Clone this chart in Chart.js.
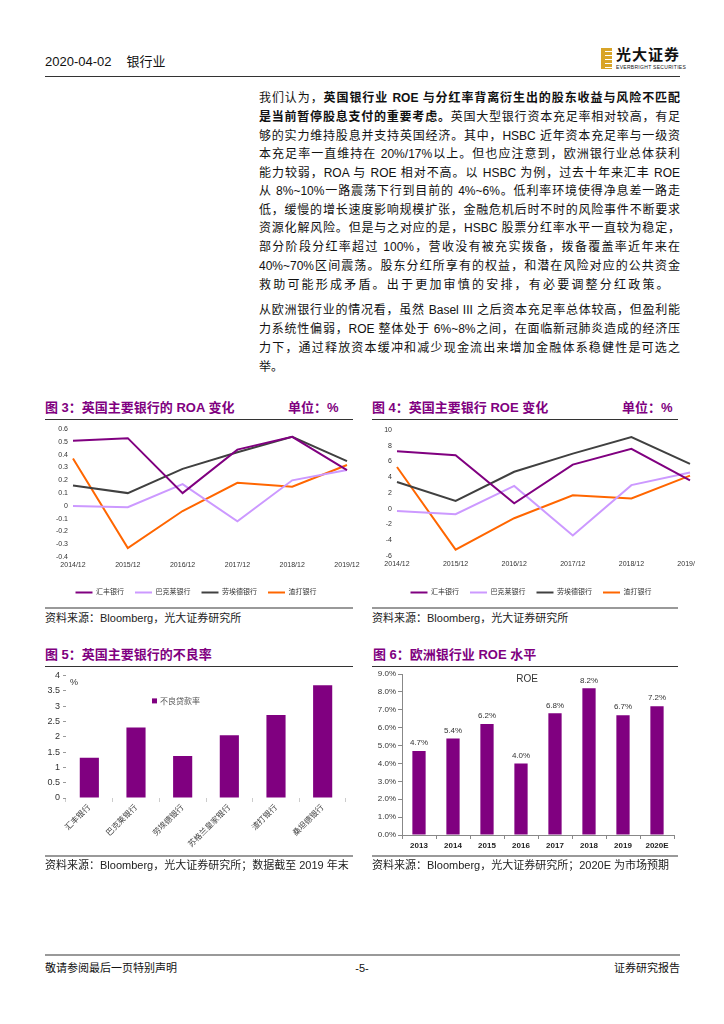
<!DOCTYPE html>
<html>
<head>
<meta charset="utf-8">
<script src="https://cdn.jsdelivr.net/npm/chart.js@4.4.1/dist/chart.umd.min.js"></script>
<style>
body{margin:0;width:724px;height:1024px;position:relative;background:#fff;overflow:hidden;
  font-family:"Liberation Sans","Noto Sans CJK SC",sans-serif;color:#111}
.abs{position:absolute}
.ln{position:absolute;left:259px;width:421px;font-size:12px;line-height:18px;height:18px;text-align:justify;text-align-last:justify}
.ln.end{text-align-last:left}
.ttl{position:absolute;font-size:13px;font-weight:bold;color:#800080;line-height:16px;white-space:nowrap}
.src{position:absolute;font-size:11px;line-height:14px;color:#222;white-space:nowrap}
.rule{position:absolute;height:1px;background:#333}
.rule2{position:absolute;height:2px;background:#999}
canvas{display:block}
</style>
</head>
<body>
<!-- header -->
<div class="abs" style="left:45px;top:54px;font-size:13px;line-height:16px">2020-04-02<span style="margin-left:15px">银行业</span></div>
<div class="rule" style="left:45px;top:76px;width:635px"></div>
<div class="abs" style="left:601px;top:48px;width:11px;height:21px;background:repeating-linear-gradient(#d8a428 0 3px,#fff 3px 4px)"></div>
<div class="abs" style="left:601px;top:48px;width:4px;height:21px;background:#d8a428"></div>
<div class="abs" style="left:616px;top:46px;font-size:15px;font-weight:bold;line-height:17px;letter-spacing:1px">光大证券</div>
<div class="abs" style="left:616px;top:64px;font-size:5px;line-height:6px;letter-spacing:0.3px">EVERBRIGHT SECURITIES</div>

<!-- body text -->
<div class="ln" style="top:89px">我们认为，<b>英国银行业 ROE 与分红率背离衍生出的股东收益与风险不匹配</b></div>
<div class="ln" style="top:108px"><b>是当前暂停股息支付的重要考虑。</b>英国大型银行资本充足率相对较高，有足</div>
<div class="ln" style="top:127px">够的实力维持股息并支持英国经济。其中，HSBC 近年资本充足率与一级资</div>
<div class="ln" style="top:145px">本充足率一直维持在 20%/17%以上。但也应注意到，欧洲银行业总体获利</div>
<div class="ln" style="top:164px">能力较弱，ROA 与 ROE 相对不高。以 HSBC 为例，过去十年来汇丰 ROE</div>
<div class="ln" style="top:182px">从 8%~10%一路震荡下行到目前的 4%~6%。低利率环境使得净息差一路走</div>
<div class="ln" style="top:201px">低，缓慢的增长速度影响规模扩张，金融危机后时不时的风险事件不断要求</div>
<div class="ln" style="top:219px">资源化解风险。但是与之对应的是，HSBC 股票分红率水平一直较为稳定，</div>
<div class="ln" style="top:238px">部分阶段分红率超过 100%，营收没有被充实拨备，拨备覆盖率近年来在</div>
<div class="ln" style="top:257px">40%~70%区间震荡。股东分红所享有的权益，和潜在风险对应的公共资金</div>
<div class="ln end" style="top:276px;letter-spacing:2.2px">救助可能形成矛盾。出于更加审慎的安排，有必要调整分红政策。</div>
<div class="ln" style="top:301px">从欧洲银行业的情况看，虽然 Basel III 之后资本充足率总体较高，但盈利能</div>
<div class="ln" style="top:320px">力系统性偏弱，ROE 整体处于 6%~8%之间，在面临新冠肺炎造成的经济压</div>
<div class="ln" style="top:339px">力下，通过释放资本缓冲和减少现金流出来增加金融体系稳健性是可选之</div>
<div class="ln end" style="top:358px">举。</div>

<!-- figure 3 -->
<div class="ttl" style="left:45px;top:400px">图 3：英国主要银行的 ROA 变化</div>
<div class="ttl" style="left:288px;top:400px">单位：%</div>
<div class="rule" style="left:45px;top:419px;width:308px"></div>
<div class="abs" style="left:45px;top:420px;width:320px;height:186px"><canvas id="roaChart" width="320" height="186"></canvas></div>
<div class="rule2" style="left:45px;top:607px;width:308px"></div>
<div class="src" style="left:45px;top:611px">资料来源：Bloomberg，光大证券研究所</div>

<!-- figure 4 -->
<div class="ttl" style="left:372px;top:400px">图 4：英国主要银行 ROE 变化</div>
<div class="ttl" style="left:622px;top:400px">单位：%</div>
<div class="rule" style="left:372px;top:419px;width:306px"></div>
<div class="abs" style="left:372px;top:420px;width:323px;height:186px;overflow:hidden"><canvas id="roeChart" width="340" height="186"></canvas></div>
<div class="rule2" style="left:372px;top:607px;width:306px"></div>
<div class="src" style="left:372px;top:611px">资料来源：Bloomberg，光大证券研究所</div>

<!-- figure 5 -->
<div class="ttl" style="left:45px;top:647px">图 5：英国主要银行的不良率</div>
<div class="rule" style="left:45px;top:666px;width:308px"></div>
<div class="abs" style="left:45px;top:667px;width:310px;height:189px"><canvas id="nplChart" width="310" height="189"></canvas></div>
<div class="rule2" style="left:45px;top:855px;width:308px"></div>
<div class="src" style="left:45px;top:858px">资料来源：Bloomberg，光大证券研究所；数据截至 2019 年末</div>

<!-- figure 6 -->
<div class="ttl" style="left:373px;top:647px">图 6：欧洲银行业 ROE 水平</div>
<div class="rule" style="left:372px;top:666px;width:306px"></div>
<div class="abs" style="left:365px;top:667px;width:317px;height:187px"><canvas id="euChart" width="317" height="187"></canvas></div>
<div class="rule2" style="left:372px;top:855px;width:306px"></div>
<div class="src" style="left:372px;top:858px">资料来源：Bloomberg，光大证券研究所；2020E 为市场预期</div>

<!-- footer -->
<div class="rule2" style="left:45px;top:954px;width:635px"></div>
<div class="abs" style="left:45px;top:961px;font-size:11px;line-height:14px">敬请参阅最后一页特别声明</div>
<div class="abs" style="left:352px;top:961px;width:20px;text-align:center;font-size:11px;line-height:14px">-5-</div>
<div class="abs" style="left:600px;top:961px;width:80px;text-align:right;font-size:11px;line-height:14px">证券研究报告</div>

<script>
// data
const years = ["2014/12", "2015/12", "2016/12", "2017/12", "2018/12", "2019/12"];
const banks = ["汇丰银行", "巴克莱银行", "劳埃德银行", "渣打银行"];
const lineColors = ["#800080", "#cc99ff", "#404040", "#ff6600"];

const roaHsbc = [0.51, 0.53, 0.10, 0.44, 0.54, 0.28];
const roaBarclays = [0.00, -0.01, 0.17, -0.12, 0.20, 0.28];
const roaLloyds = [0.16, 0.10, 0.29, 0.42, 0.54, 0.35];
const roaStanChart = [0.37, -0.33, -0.04, 0.18, 0.15, 0.32];

const roeHsbc = [7.3, 6.8, 0.7, 5.6, 7.6, 3.6];
const roeBarclays = [-0.3, -0.7, 2.9, -3.4, 3.0, 4.6];
const roeLloyds = [3.4, 1.0, 4.7, 7.0, 9.1, 5.7];
const roeStanChart = [5.3, -5.2, -1.2, 1.7, 1.3, 4.2];

const nplBanks = ["汇丰银行", "巴克莱银行", "劳埃德银行", "苏格兰皇家银行", "渣打银行", "桑坦德银行"];
const nplRates = [1.31, 2.30, 1.37, 2.05, 2.71, 3.68];

const euYears = ["2013", "2014", "2015", "2016", "2017", "2018", "2019", "2020E"];
const euRoe = [4.7, 5.4, 6.2, 4.0, 6.8, 8.2, 6.7, 7.2];

Chart.defaults.font.family = '"Liberation Sans","Noto Sans CJK SC",sans-serif';
Chart.defaults.color = "#333";

function lineSets(series) {
  return series.map((d, i) => ({
    label: banks[i],
    data: d,
    borderColor: lineColors[i],
    backgroundColor: lineColors[i],
    borderWidth: 2,
    pointRadius: 0,
    tension: 0
  }));
}

function lineOptions(yMin, yMax, step, fmt, padTop, padRight, xHeight, yWidth) {
  return {
    responsive: false,
    animation: false,
    layout: { padding: { top: padTop, right: padRight, left: 0, bottom: 0 } },
    plugins: {
      legend: {
        position: "bottom",
        labels: { usePointStyle: true, pointStyle: "line", pointStyleWidth: 17, boxHeight: 7, padding: 11, font: { size: 7 }, color: "#333" }
      },
      tooltip: { enabled: false }
    },
    scales: {
      x: {
        grid: { display: false, drawTicks: false },
        border: { display: false },
        ticks: { font: { size: 7 }, maxRotation: 0, minRotation: 0, padding: 4 },
        afterFit: s => { s.height = xHeight; }
      },
      y: {
        min: yMin,
        max: yMax,
        grid: { display: false, drawTicks: false },
        border: { display: false },
        ticks: { stepSize: step, font: { size: 7 }, padding: 5, callback: fmt },
        afterFit: s => { s.width = yWidth; }
      }
    }
  };
}

// roa lines
new Chart(document.getElementById("roaChart").getContext("2d"), {
  type: "line",
  data: { labels: years, datasets: lineSets([roaHsbc, roaBarclays, roaLloyds, roaStanChart]) },
  options: lineOptions(-0.4, 0.6, 0.1, v => Math.abs(v) < 1e-9 ? "0" : v.toFixed(1), 8, 18, 21, 28)
});

// roe lines
new Chart(document.getElementById("roeChart").getContext("2d"), {
  type: "line",
  data: { labels: years, datasets: lineSets([roeHsbc, roeBarclays, roeLloyds, roeStanChart]) },
  options: lineOptions(-6, 10, 2, v => String(v), 10, 22, 22, 25)
});

// npl bars
const nplNote = {
  id: "nplNote",
  afterDraw(chart) {
    const { ctx, chartArea: a } = chart;
    ctx.save();
    ctx.fillStyle = "#800080";
    ctx.fillRect(a.left + 86, a.top + 23, 5, 5);
    ctx.fillStyle = "#555";
    ctx.font = '8px "Noto Sans CJK SC"';
    ctx.textBaseline = "middle";
    ctx.fillText(chart.data.datasets[0].label, a.left + 94, a.top + 26);
    ctx.fillStyle = "#333";
    ctx.font = '9px "Liberation Sans"';
    ctx.fillText("%", a.left + 4, a.top + 7);
    ctx.restore();
  }
};
new Chart(document.getElementById("nplChart").getContext("2d"), {
  type: "bar",
  data: {
    labels: nplBanks,
    datasets: [{ label: "不良贷款率", data: nplRates, backgroundColor: "#800080", barPercentage: 0.41, categoryPercentage: 1 }]
  },
  options: {
    responsive: false,
    animation: false,
    layout: { padding: { top: 5, right: 9, left: 0, bottom: 0 } },
    plugins: { legend: { display: false }, tooltip: { enabled: false } },
    scales: {
      x: {
        grid: { display: true, drawOnChartArea: false, offset: true, tickLength: 4, color: "#ccc" },
        border: { display: false },
        ticks: { font: { size: 8 }, color: "#444", minRotation: 45, maxRotation: 45, padding: 1 },
        afterFit: s => { s.height = 58; }
      },
      y: {
        min: 0,
        max: 4,
        grid: { display: true, drawOnChartArea: false, tickLength: 3, color: "#999" },
        border: { display: false },
        ticks: { stepSize: 0.5, font: { size: 9 }, padding: 3, callback: v => String(v) },
        afterFit: s => { s.width = 21; }
      }
    }
  },
  plugins: [nplNote]
});

// europe roe bars
const euLabels = {
  id: "euLabels",
  afterDatasetsDraw(chart) {
    const { ctx, chartArea: a } = chart;
    const meta = chart.getDatasetMeta(0);
    ctx.save();
    ctx.fillStyle = "#333";
    ctx.textAlign = "center";
    ctx.textBaseline = "bottom";
    ctx.font = '8px "Liberation Sans"';
    meta.data.forEach((bar, i) => ctx.fillText(euRoe[i].toFixed(1) + "%", bar.x, bar.y - 4));
    ctx.font = '10px "Liberation Sans"';
    ctx.textBaseline = "middle";
    ctx.fillText(chart.data.datasets[0].label, a.left + 125, a.top + 5);
    ctx.restore();
  }
};
new Chart(document.getElementById("euChart").getContext("2d"), {
  type: "bar",
  data: {
    labels: euYears,
    datasets: [{ label: "ROE", data: euRoe, backgroundColor: "#800080", barPercentage: 0.39, categoryPercentage: 1 }]
  },
  options: {
    responsive: false,
    animation: false,
    layout: { padding: { top: 7, right: 8, left: 0, bottom: 0 } },
    plugins: { legend: { display: false }, tooltip: { enabled: false } },
    scales: {
      x: {
        grid: { display: true, drawOnChartArea: false, offset: true, tickLength: 4, color: "#888" },
        border: { display: true, color: "#888" },
        ticks: { font: { size: 8, weight: "bold" }, color: "#222", maxRotation: 0, padding: 2 },
        afterFit: s => { s.height = 19; }
      },
      y: {
        min: 0,
        max: 9,
        grid: { display: true, drawOnChartArea: false, tickLength: 4, color: "#888" },
        border: { display: true, color: "#888" },
        ticks: { stepSize: 1, font: { size: 8 }, padding: 2, callback: v => v.toFixed(1) + "%" },
        afterFit: s => { s.width = 37; }
      }
    }
  },
  plugins: [euLabels]
});
</script>
</body>
</html>
